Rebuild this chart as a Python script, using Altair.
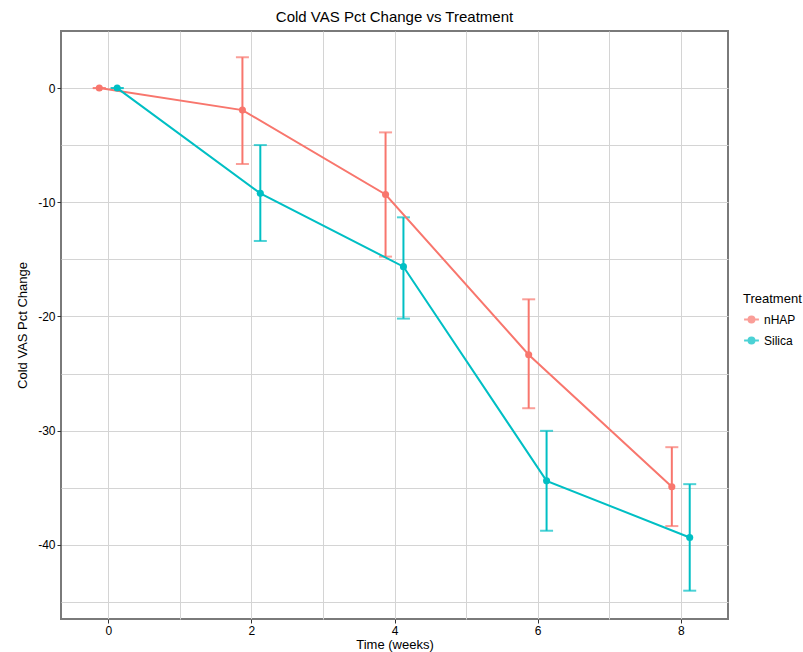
import altair as alt
import pandas as pd

times = [0, 2, 4, 6, 8]
treatments = ["nHAP", "Silica"]
nhap_mean = [0.0, -1.93, -9.32, -23.35, -34.92]
nhap_lo = [0.0, -6.65, -14.76, -28.04, -38.36]
nhap_hi = [0.0, 2.70, -3.88, -18.50, -31.45]
silica_mean = [0.0, -9.22, -15.64, -34.40, -39.36]
silica_lo = [0.0, -13.39, -20.19, -38.77, -44.02]
silica_hi = [0.0, -4.99, -11.32, -30.02, -34.69]

rows = []
for t, m, lo, hi in zip(times, nhap_mean, nhap_lo, nhap_hi):
    rows.append({"time": t, "treatment": "nHAP", "mean": m, "lo": lo, "hi": hi})
for t, m, lo, hi in zip(times, silica_mean, silica_lo, silica_hi):
    rows.append({"time": t, "treatment": "Silica", "mean": m, "lo": lo, "hi": hi})
df = pd.DataFrame(rows)

FONT = "Liberation Sans"
colors = ["#F8766D", "#00BFC4"]

x_ticks = list(range(0, 9))
y_ticks = [0, -5, -10, -15, -20, -25, -30, -35, -40, -45]

x_axis = alt.Axis(
    values=x_ticks,
    labelExpr="datum.value % 2 == 0 ? '' + datum.value : ''",
    tickOpacity={"condition": {"test": "datum.value % 2 != 0", "value": 0}, "value": 1},
    title="Time (weeks)", titleFontWeight="normal", titleFont=FONT, titleFontSize=13,
)
y_axis = alt.Axis(
    values=y_ticks,
    labelExpr="datum.value % 10 == 0 ? '' + datum.value : ''",
    tickOpacity={"condition": {"test": "datum.value % 10 != 0", "value": 0}, "value": 1},
    title="Cold VAS Pct Change", titleFontWeight="normal", titleFont=FONT, titleFontSize=13,
)

legend = alt.Legend(
    title="Treatment", orient="none", legendX=682, legendY=262,
    titleFont=FONT, titleFontSize=13, titleFontWeight="normal", titleColor="black",
    labelFont=FONT, labelFontSize=12, labelColor="black",
    symbolType="M-1,0L-0.4,0M0.4,0L1,0M0.4,0A0.4,0.4,0,1,1,-0.4,0A0.4,0.4,0,1,1,0.4,0Z",
    symbolSize=220, symbolStrokeWidth=2, rowPadding=5,
)
color = alt.Color(
    "treatment:N",
    scale=alt.Scale(domain=treatments, range=colors),
    legend=legend,
)

base = alt.Chart(df).transform_calculate(
    xd="datum.time + (datum.treatment == 'nHAP' ? -0.125 : 0.125)"
)

xenc = alt.X("xd:Q", scale=alt.Scale(domain=[-0.66, 8.66], nice=False, zero=False), axis=x_axis)
yscale = alt.Scale(domain=[-46.5, 5], nice=False, zero=False)

line = base.mark_line(strokeWidth=2).encode(
    x=xenc, y=alt.Y("mean:Q", scale=yscale, axis=y_axis), color=color, detail="treatment:N"
)
pts = base.mark_point(filled=True, size=50, opacity=1).encode(
    x=xenc, y=alt.Y("mean:Q", scale=yscale, axis=y_axis), color=color
)
rule = base.mark_rule(strokeWidth=2).encode(
    x=xenc, y=alt.Y("lo:Q", scale=yscale, axis=y_axis), y2="hi:Q", color=color
)
cap_lo = base.mark_tick(orient="horizontal", size=13, thickness=2).encode(
    x=xenc, y=alt.Y("lo:Q", scale=yscale, axis=y_axis), color=color
)
cap_hi = base.mark_tick(orient="horizontal", size=13, thickness=2).encode(
    x=xenc, y=alt.Y("hi:Q", scale=yscale, axis=y_axis), color=color
)

chart = alt.layer(rule, cap_lo, cap_hi, line, pts).properties(
    width=667,
    height=588,
    background="white",
    autosize=alt.AutoSizeParams(type="none"),
    padding={"left": 61, "top": 31, "right": 75, "bottom": 33},
    title=alt.TitleParams(
        "Cold VAS Pct Change vs Treatment",
        font=FONT, fontSize=15, fontWeight="normal", color="black",
        anchor="middle", offset=6,
    ),
).configure_view(
    stroke="#7a7a7a", strokeWidth=2, fill="white"
).configure_axis(
    labelFont=FONT, labelFontSize=12, labelColor="black",
    gridColor="#d4d4d4", gridWidth=1,
    domain=False, tickColor="#333333", tickSize=4, tickWidth=1,
    labelPadding=2,
).configure_axisX(titlePadding=2).configure_axisY(titlePadding=8)

chart.save("out.html", embed_options={"renderer": "svg", "actions": False})
